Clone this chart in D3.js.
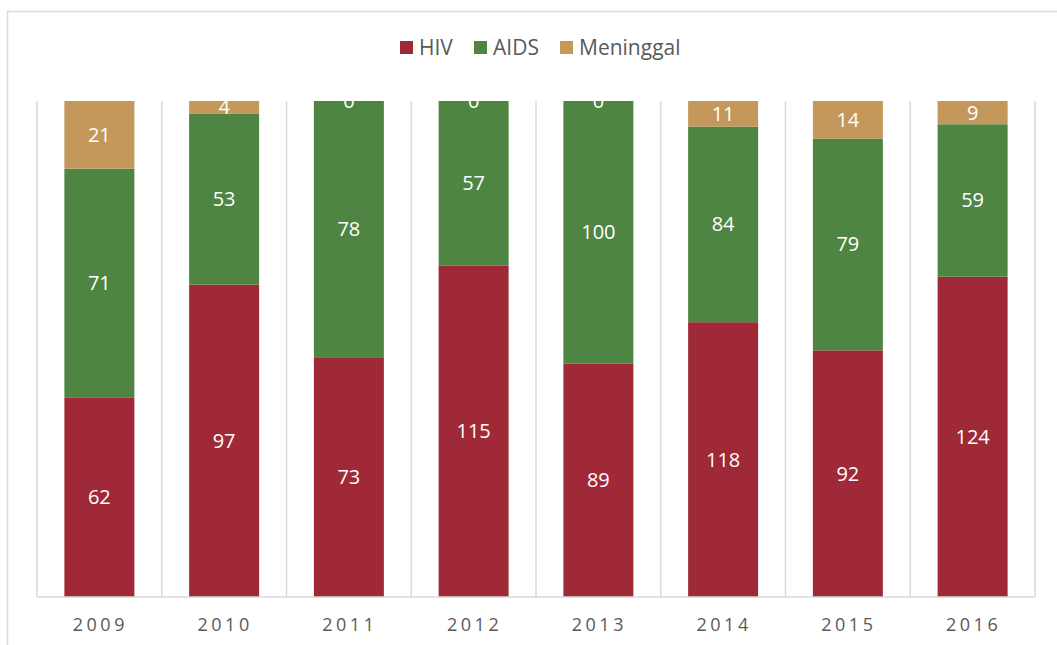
<!DOCTYPE html>
<html>
<head>
<meta charset="utf-8">
<script src="https://cdn.jsdelivr.net/npm/d3@7"></script>
<style>
  body { margin: 0; background: #fff; }
  svg { font-family: "Open Sans", "DejaVu Sans", sans-serif; }
</style>
</head>
<body>
<div id="chart"></div>
<script>
// data
const years = ["2009", "2010", "2011", "2012", "2013", "2014", "2015", "2016"];
const hiv = [62, 97, 73, 115, 89, 118, 92, 124];
const aids = [71, 53, 78, 57, 100, 84, 79, 59];
const meninggal = [21, 4, 0, 0, 0, 11, 14, 9];
const seriesNames = ["HIV", "AIDS", "Meninggal"];
const colors = ["#9f2936", "#4e8542", "#c4985b"];

const W = 1057, H = 645;
const MARGIN = { LEFT: 37, RIGHT: 22, TOP: 101, BOTTOM: 48 };
const WIDTH = W - MARGIN.LEFT - MARGIN.RIGHT;
const HEIGHT = H - MARGIN.TOP - MARGIN.BOTTOM;

const svg = d3.select("#chart").append("svg")
  .attr("width", W)
  .attr("height", H);

// chart border
svg.append("rect")
  .attr("x", 7.5).attr("y", 11.5)
  .attr("width", W).attr("height", H)
  .attr("fill", "none")
  .attr("stroke", "#d9d9d9")
  .attr("stroke-width", 1.5);

const g = svg.append("g")
  .attr("transform", `translate(${MARGIN.LEFT}, ${MARGIN.TOP})`);

const table = years.map((y, i) => ({ year: y, HIV: hiv[i], AIDS: aids[i], Meninggal: meninggal[i] }));
const stacked = d3.stack().keys(seriesNames).offset(d3.stackOffsetExpand)(table);

const x = d3.scaleBand().domain(years).range([0, WIDTH]).paddingInner(0).paddingOuter(0);
const y = d3.scaleLinear().domain([0, 1]).range([HEIGHT, 0]);
const barW = 70;

// vertical gridlines at category boundaries
const bounds = years.map(d => x(d)).concat([WIDTH]);
g.selectAll(".grid")
  .data(bounds)
  .enter().append("line")
  .attr("x1", d => d).attr("x2", d => d)
  .attr("y1", 0).attr("y2", HEIGHT)
  .attr("stroke", "#d9d9d9")
  .attr("stroke-width", 1.5);

// bars
const layers = g.selectAll(".layer")
  .data(stacked)
  .enter().append("g")
  .attr("fill", (d, i) => colors[i]);

layers.selectAll("rect")
  .data(d => d)
  .enter().append("rect")
  .attr("x", d => x(d.data.year) + x.bandwidth() / 2 - barW / 2)
  .attr("width", barW)
  .attr("y", d => y(d[1]))
  .attr("height", d => y(d[0]) - y(d[1]));

// data labels
stacked.forEach(layer => {
  g.selectAll(null)
    .data(layer)
    .enter().append("text")
    .attr("x", d => x(d.data.year) + x.bandwidth() / 2)
    .attr("y", d => (y(d[0]) + y(d[1])) / 2)
    .attr("dy", "0.35em")
    .attr("text-anchor", "middle")
    .attr("fill", "#fff")
    .attr("font-size", "20px")
    .text(d => d.data[layer.key]);
});

// x axis line
g.append("line")
  .attr("x1", 0).attr("x2", WIDTH)
  .attr("y1", HEIGHT).attr("y2", HEIGHT)
  .attr("stroke", "#d9d9d9")
  .attr("stroke-width", 1.5);

// x labels
g.selectAll(".xlab")
  .data(years)
  .enter().append("text")
  .attr("x", d => x(d) + x.bandwidth() / 2 + 1)
  .attr("y", HEIGHT + 34)
  .attr("text-anchor", "middle")
  .attr("fill", "#595959")
  .attr("font-size", "18px")
  .attr("letter-spacing", "3.5px")
  .text(d => d);

// legend
const legendX = [400, 474, 560];
const legend = svg.append("g");
seriesNames.forEach((name, i) => {
  legend.append("rect")
    .attr("x", legendX[i]).attr("y", 41)
    .attr("width", 13).attr("height", 13)
    .attr("fill", colors[i]);
  legend.append("text")
    .attr("x", legendX[i] + 19).attr("y", 55)
    .attr("fill", "#595959")
    .attr("font-size", "21px")
    .text(name);
});
</script>
</body>
</html>
